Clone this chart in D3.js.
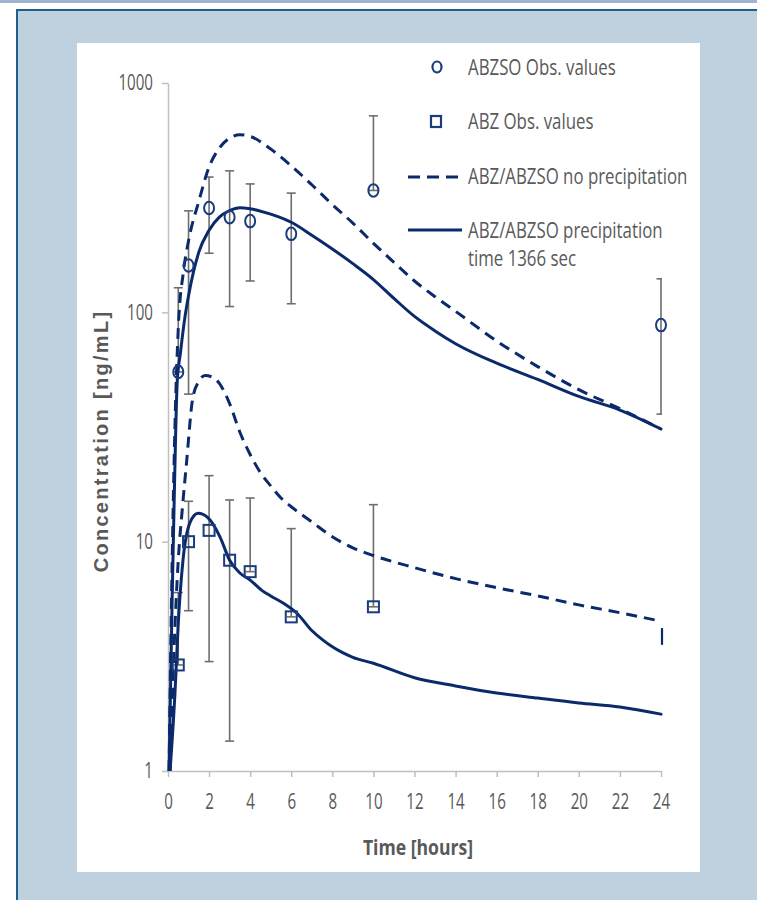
<!DOCTYPE html>
<html>
<head>
<meta charset="utf-8">
<script src="https://cdn.jsdelivr.net/npm/d3@7"></script>
<style>
  html, body { margin: 0; padding: 0; background: #ffffff; }
  svg { display: block; }
</style>
</head>
<body>
<script>
// ---------------- DATA ----------------
const xTicks = [0, 2, 4, 6, 8, 10, 12, 14, 16, 18, 20, 22, 24];
const yTicks = [1, 10, 100, 1000];

// ABZSO observations (circles) with error bar ends
const abzsoObsTime = [0.5, 1, 2, 3, 4, 6, 10, 24];
const abzsoObsConc = [55, 160, 285, 260, 250, 220, 340, 88];
const abzsoErrHigh = [128, 277, 389, 414, 363, 331, 719, 140];
const abzsoErrLow  = [55, 44, 181, 106, 137, 109, 340, 36];

// ABZ observations (squares) with error bar ends
const abzObsTime = [0.5, 1, 2, 3, 4, 6, 10];
const abzObsConc = [2.9, 10, 11.2, 8.3, 7.4, 4.7, 5.2];
const abzErrHigh = [6.0, 15, 19.4, 15.2, 15.5, 11.4, 14.5];
const abzErrLow  = [2.9, 5, 3.0, 1.35, 7.4, 4.7, 5.2];

// lone ABZ error segment at 24 h
const abzEndTime = [24];
const abzEndHigh = [4.2];
const abzEndLow  = [3.55];

// Simulated ABZSO, no precipitation (dashed)
const abzsoNoPrecipTime = [0.05, 0.2, 0.35, 0.5, 0.75, 1, 1.5, 2, 2.5, 3, 3.5, 4, 5, 6, 7, 8, 9, 10, 11, 12, 13, 14, 16, 18, 20, 22, 24];
const abzsoNoPrecipConc = [1, 8, 35, 85, 150, 205, 305, 430, 520, 575, 595, 585, 515, 435, 360, 295, 245, 200, 165, 137, 117, 101, 75, 58, 46, 38, 31];

// Simulated ABZSO, precipitation time 1366 s (solid)
const abzsoPrecipTime = [0.05, 0.2, 0.3, 0.45, 0.6, 0.8, 1, 1.5, 2, 2.5, 3, 3.5, 4, 5, 6, 7, 8, 9, 10, 11, 12, 13, 14, 16, 18, 20, 22, 24];
const abzsoPrecipConc = [1, 5.5, 15, 50, 66, 92, 118, 183, 228, 260, 278, 286, 283, 268, 247, 217, 189, 163, 139, 115, 96, 83, 73, 60, 51, 43, 37.5, 31];

// Simulated ABZ, no precipitation (dashed)
const abzNoPrecipTime = [0.1, 0.3, 0.5, 0.7, 0.9, 1.2, 1.5, 1.8, 2.2, 2.5, 3, 3.5, 4, 4.5, 5, 5.5, 6, 7, 8, 9, 10, 12, 14, 16, 18, 20, 22, 24];
const abzNoPrecipConc = [1, 3.5, 8.3, 14, 22, 42, 50, 53, 52, 49, 40, 30, 24, 20, 17.5, 15.5, 14.2, 12.2, 10.5, 9.4, 8.7, 7.7, 6.9, 6.3, 5.8, 5.3, 4.9, 4.5];

// Simulated ABZ, precipitation time 1366 s (solid)
const abzPrecipTime = [0.1, 0.34, 0.49, 0.73, 1.07, 1.46, 1.95, 2.53, 3, 3.5, 4, 4.6, 5, 5.6, 6.3, 7, 7.5, 8, 8.5, 9, 10, 12, 14, 16, 18, 20, 22, 24];
const abzPrecipConc = [1, 2.19, 4.25, 8.3, 12.1, 13.3, 12.7, 10.5, 8.3, 7.3, 6.8, 6.1, 5.8, 5.4, 4.85, 4.1, 3.75, 3.48, 3.28, 3.13, 2.95, 2.55, 2.35, 2.19, 2.08, 1.98, 1.9, 1.77];

const legendLabels = ["ABZSO Obs. values", "ABZ Obs. values", "ABZ/ABZSO no precipitation", "ABZ/ABZSO precipitation", "time 1366 sec"];
const xTitle = "Time [hours]";
const yTitle = "Concentration [ng/mL]";

// ---------------- DRAW ----------------
const W = 757, H = 900;
const navy = "#0b2a6b";
const textGray = "#595959";
const axisGray = "#bfbfbf";
const errGray = "#6e6e6e";
const fontFam = "'Open Sans', 'DejaVu Sans', sans-serif";

// condense a text element horizontally around its own x position
function condense(sel, s) {
  sel.each(function () {
    const t = d3.select(this);
    const x0 = +(t.attr("x") || 0);
    t.attr("x", x0 / s).attr("transform", `scale(${s},1)`);
  });
}

const svg = d3.select("body").append("svg").attr("width", W).attr("height", H);

// page frame
svg.append("rect").attr("x", 0).attr("y", 0).attr("width", W).attr("height", 3).attr("fill", "#9fb5cd");
svg.append("rect").attr("x", 17).attr("y", 10).attr("width", W + 10).attr("height", H + 10)
  .attr("fill", "#bfd1df").attr("stroke", "#1f5f8c").attr("stroke-width", 2);
svg.append("rect").attr("x", 77).attr("y", 43).attr("width", 623).attr("height", 829).attr("fill", "#ffffff");

const x = d3.scaleLinear().domain([0, 24]).range([168, 661]);
const y = d3.scaleLog().domain([1, 1000]).range([771, 83]);

// axes
const yAxis = d3.axisLeft(y).tickValues(yTicks).tickFormat(d3.format("d")).tickSize(6).tickSizeOuter(0).tickPadding(9);
const gy = svg.append("g").attr("transform", "translate(168,0)").call(yAxis);
const xAxis = d3.axisBottom(x).tickValues(xTicks).tickFormat(d3.format("d")).tickSize(6).tickSizeOuter(0).tickPadding(17);
const gx = svg.append("g").attr("transform", "translate(0,771)").call(xAxis);
[gx, gy].forEach(g => {
  g.select(".domain").attr("stroke", axisGray).attr("stroke-width", 1.5);
  g.selectAll(".tick line").attr("stroke", axisGray).attr("stroke-width", 1.5);
  g.selectAll(".tick text").attr("fill", textGray).style("font-family", fontFam).style("font-size", "21px");
  condense(g.selectAll(".tick text"), 0.72);
});

// axis titles
const xt = svg.append("text").attr("x", 418).attr("y", 855).attr("text-anchor", "middle")
  .style("font-family", fontFam).style("font-weight", "bold").style("font-size", "22px")
  .attr("fill", textGray).text(xTitle);
condense(xt, 0.8);
svg.append("text").attr("transform", "translate(108,441) rotate(-90)").attr("text-anchor", "middle")
  .style("font-family", "'Liberation Sans', Arial, sans-serif").style("font-weight", "bold").style("font-size", "20px")
  .style("letter-spacing", "2.3px")
  .attr("fill", textGray).text(yTitle);

// clip for curves
const defs = svg.append("defs");
defs.append("clipPath").attr("id", "plotclip").append("rect")
  .attr("x", 166).attr("y", 70).attr("width", 498).attr("height", 701);
defs.append("clipPath").attr("id", "barclip").append("rect")
  .attr("x", 100).attr("y", 70).attr("width", 562).attr("height", 701);

// error bars
function errorBars(times, hi, lo) {
  const g = svg.append("g").attr("clip-path", "url(#barclip)");
  times.forEach((t, i) => {
    const cx = x(t);
    g.append("line").attr("x1", cx).attr("x2", cx).attr("y1", y(hi[i])).attr("y2", y(lo[i]))
      .attr("stroke", errGray).attr("stroke-width", 1.6);
    [hi[i], lo[i]].forEach(v => {
      g.append("line").attr("x1", cx - 4.5).attr("x2", cx + 4.5).attr("y1", y(v)).attr("y2", y(v))
        .attr("stroke", errGray).attr("stroke-width", 1.6);
    });
  });
}
errorBars(abzsoObsTime, abzsoErrHigh, abzsoErrLow);
errorBars(abzObsTime, abzErrHigh, abzErrLow);

// curves
const lineGen = d3.line().x(d => x(d[0])).y(d => y(d[1])).curve(d3.curveMonotoneX);
const curves = svg.append("g").attr("clip-path", "url(#plotclip)");
function drawCurve(times, conc, dashed) {
  curves.append("path").datum(times.map((t, i) => [t, conc[i]]))
    .attr("d", lineGen).attr("fill", "none").attr("stroke", navy).attr("stroke-width", 3)
    .attr("stroke-linecap", dashed ? "butt" : "round")
    .attr("stroke-dasharray", dashed ? "11,7" : null);
}
drawCurve(abzsoNoPrecipTime, abzsoNoPrecipConc, true);
drawCurve(abzNoPrecipTime, abzNoPrecipConc, true);
drawCurve(abzsoPrecipTime, abzsoPrecipConc, false);
drawCurve(abzPrecipTime, abzPrecipConc, false);

// lone ABZ segment at 24 h
abzEndTime.forEach((t, i) => {
  svg.append("line").attr("x1", x(t) + 1).attr("x2", x(t) + 1).attr("y1", y(abzEndHigh[i])).attr("y2", y(abzEndLow[i]))
    .attr("stroke", navy).attr("stroke-width", 2.2);
});

// markers
svg.append("g").selectAll("ellipse").data(abzsoObsTime).join("ellipse")
  .attr("cx", d => x(d)).attr("cy", (d, i) => y(abzsoObsConc[i]))
  .attr("rx", 5).attr("ry", 6.3).attr("fill", "none").attr("stroke", "#1a3b7c").attr("stroke-width", 2);
svg.append("g").selectAll("rect").data(abzObsTime).join("rect")
  .attr("x", d => x(d) - 5.5).attr("y", (d, i) => y(abzObsConc[i]) - 5.5)
  .attr("width", 11).attr("height", 11).attr("fill", "none").attr("stroke", "#1a3b7c").attr("stroke-width", 2);

// legend
const lg = svg.append("g");
const lt = (txt, yy) => condense(lg.append("text").attr("x", 468).attr("y", yy).attr("dy", "0.36em")
  .style("font-family", fontFam).style("font-size", "22px").attr("fill", textGray).text(txt), 0.765);
lg.append("ellipse").attr("cx", 437).attr("cy", 67).attr("rx", 4.5).attr("ry", 5.5)
  .attr("fill", "none").attr("stroke", "#1a3b7c").attr("stroke-width", 2.2);
lt(legendLabels[0], 67);
lg.append("rect").attr("x", 431).attr("y", 116).attr("width", 10).attr("height", 11)
  .attr("fill", "none").attr("stroke", "#1a3b7c").attr("stroke-width", 2.2);
lt(legendLabels[1], 121);
lg.append("line").attr("x1", 408).attr("x2", 462).attr("y1", 177).attr("y2", 177)
  .attr("stroke", navy).attr("stroke-width", 3).attr("stroke-dasharray", "12,7");
lt(legendLabels[2], 176);
lg.append("line").attr("x1", 408).attr("x2", 462).attr("y1", 230).attr("y2", 230)
  .attr("stroke", navy).attr("stroke-width", 3);
lt(legendLabels[3], 230);
lt(legendLabels[4], 258);
</script>
</body>
</html>
